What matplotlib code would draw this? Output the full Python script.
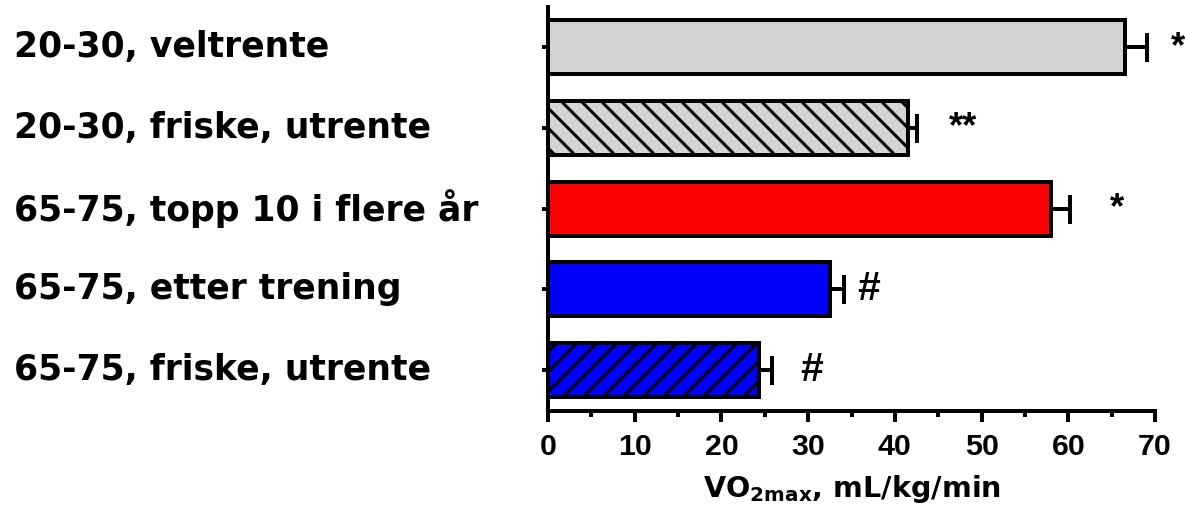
import matplotlib
matplotlib.use("Agg")
import matplotlib.pyplot as plt
from matplotlib import font_manager
from matplotlib.font_manager import FontProperties
from matplotlib.transforms import blended_transform_factory

# Groups, listed top to bottom
groups = [
    "20-30, veltrente",
    "20-30, friske, utrente",
    "65-75, topp 10 i flere år",
    "65-75, etter trening",
    "65-75, friske, utrente",
]
vo2max = [66.5, 41.5, 58.0, 32.5, 24.3]
sem = [2.6, 1.0, 2.2, 1.6, 1.5]
face_colors = ["#d3d3d3", "#d3d3d3", "#ff0000", "#0000ff", "#0000ff"]
hatches = ["", "\\\\", "", "", "//"]

# Significance marks next to each bar
marks = ["*", "**", "*", "#", "#"]
mark_x = [72.6, 47.9, 65.6, 37.0, 30.4]

x_ticks = [0, 10, 20, 30, 40, 50, 60, 70]
x_minor = [5, 15, 25, 35, 45, 55, 65]

DPI = 120
LW = 2.4


def arial_bold(size):
    """Regular-width Liberation Sans Bold, picked by file to avoid the Narrow cut."""
    for f in font_manager.fontManager.ttflist:
        fn = f.fname.replace("\\", "/").split("/")[-1].lower()
        if fn.startswith("liberationsans-bold."):
            return FontProperties(fname=f.fname, size=size)
    return FontProperties(family="Liberation Sans", weight="bold", stretch="normal", size=size)


plt.rcParams["hatch.linewidth"] = 1.8
plt.rcParams["mathtext.fontset"] = "custom"
plt.rcParams["mathtext.rm"] = "DejaVu Sans:bold"
plt.rcParams["mathtext.bf"] = "DejaVu Sans:bold"

fig = plt.figure(figsize=(1186 / DPI, 508 / DPI), dpi=DPI)
ax = fig.add_axes([548 / 1186, 1 - 410.5 / 508, (1155 - 548) / 1186, (410.5 - 7) / 508])

n = len(groups)
pos = [n - 1 - i for i in range(n)]

ax.barh(pos, vo2max, height=0.67, color=face_colors, edgecolor="black",
        linewidth=LW, hatch=hatches, zorder=2)
ax.errorbar(vo2max, pos, xerr=[[0] * n, sem], fmt="none", ecolor="black",
            elinewidth=LW, capsize=8.7, capthick=LW, zorder=3)

for p, x, m in zip(pos, mark_x, marks):
    size = 24.5 if m == "#" else 22
    ax.text(x, p, m, ha="center", va="center", fontproperties=arial_bold(size),
            clip_on=False)

ax.set_xlim(0, 70)
ax.set_ylim(-0.5, n - 0.5)

for side in ("top", "right"):
    ax.spines[side].set_visible(False)
for side in ("left", "bottom"):
    ax.spines[side].set_linewidth(LW)

ax.set_xticks(x_ticks)
ax.set_xticks(x_minor, minor=True)
ax.set_xticklabels([str(t) for t in x_ticks], fontproperties=arial_bold(18.2))
ax.tick_params(axis="x", which="major", length=6.5, width=LW, pad=7)
ax.tick_params(axis="x", which="minor", length=3.5, width=LW)

ax.set_yticks(pos)
ax.set_yticklabels([])
ax.tick_params(axis="y", length=3.6, width=LW)

label_tr = blended_transform_factory(fig.transFigure, ax.transData)
for p, g in zip(pos, groups):
    ax.text(14 / 1186, p, g, transform=label_tr, ha="left", va="center",
            fontsize=20.8, fontweight="bold", family="DejaVu Sans")

ax.set_xlabel(r"VO$_{\mathregular{2max}}$, mL/kg/min", fontsize=17.2,
              fontweight="bold", family="DejaVu Sans", labelpad=7)

fig.savefig("out.png", dpi=DPI)
